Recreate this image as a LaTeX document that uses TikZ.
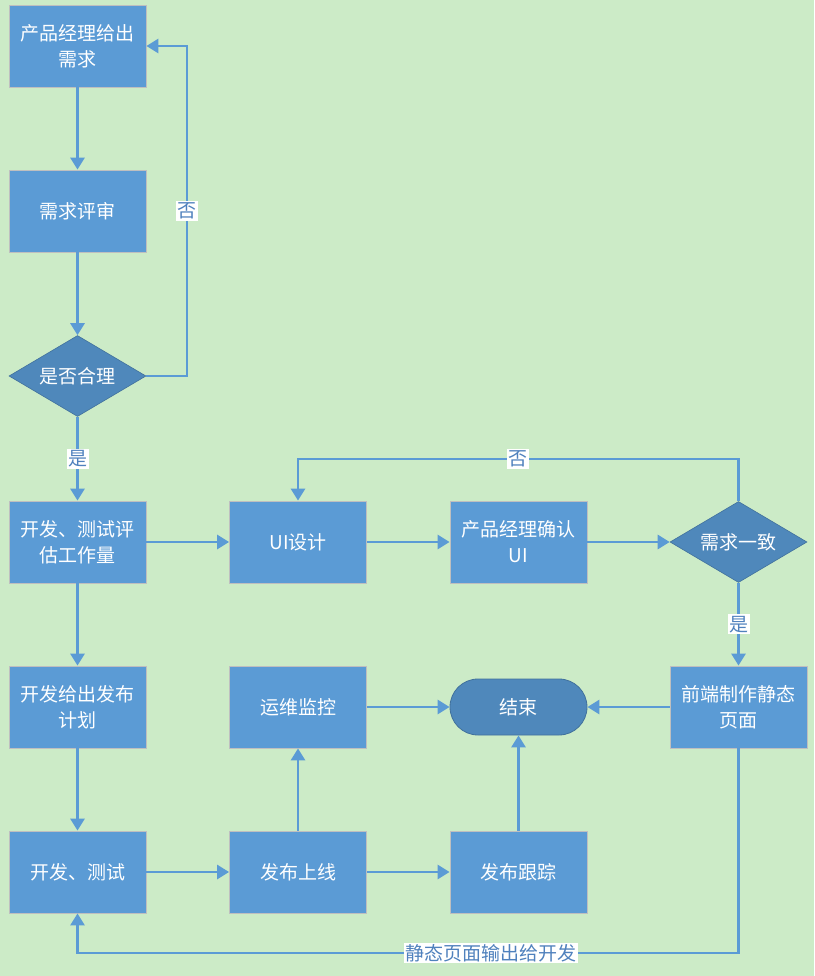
\documentclass[tikz,border=0pt]{standalone}
\usepackage{fontspec}
\setmainfont{Noto Sans CJK SC}
\usetikzlibrary{shapes.geometric,arrows.meta,calc}
\definecolor{bg}{RGB}{204,235,199}
\definecolor{boxfill}{RGB}{91,155,213}
\definecolor{dfill}{RGB}{79,136,187}
\definecolor{dborder}{RGB}{65,113,156}
\definecolor{lineblue}{RGB}{91,155,213}
\definecolor{lbltext}{RGB}{79,129,189}
\begin{document}
\begin{tikzpicture}[x=1pt,y=-1pt,
  box/.style={rectangle,draw={rgb,255:red,191;green,191;blue,191},line width=0.8pt,fill=boxfill,minimum width=137pt,minimum height=82pt,inner sep=2pt,text=white,font=\fontsize{19}{26}\selectfont,align=center},
  dia/.style={diamond,draw=dborder,line width=0.6pt,fill=dfill,minimum width=137pt,minimum height=81pt,inner sep=0pt,aspect=1.67,text=white,font=\fontsize{19}{26}\selectfont},
  term/.style={rectangle,rounded corners=28pt,draw=dborder,line width=0.8pt,fill=dfill,minimum width=137pt,minimum height=56pt,inner sep=0pt,text=white,font=\fontsize{19}{26}\selectfont},
  arr/.style={draw=lineblue,line width=2.8pt,-{Triangle[length=12pt,width=14pt]}},
  lbl/.style={fill=white,text=lbltext,inner sep=1.5pt,font=\fontsize{19}{22}\selectfont}]
\fill[bg] (0,0) rectangle (814,976);
\useasboundingbox (0,0) rectangle (814,976);

\node[box] (n1) at (77.5,46) {产品经理给出\\需求};
\node[box] (n2) at (77.5,211) {需求评审};
\node[dia] (d1) at (77.5,376) {是否合理};
\node[box] (n4) at (77.5,542) {开发、测试评\\估工作量};
\node[box] (ui) at (298,542) {UI设计};
\node[box] (pm) at (518.5,542) {产品经理确认\\UI};
\node[dia] (d2) at (738.5,542) {需求一致};
\node[box] (n5) at (77.5,707) {开发给出发布\\计划};
\node[box] (ops) at (298,707) {运维监控};
\node[term] (end) at (518.5,707) {结束};
\node[box] (fe) at (738.5,707) {前端制作静态\\页面};
\node[box] (n6) at (77.5,872) {开发、测试};
\node[box] (rel) at (298,872) {发布上线};
\node[box] (trk) at (518.5,872) {发布跟踪};

\coordinate (c1) at (187,46);
\coordinate (c2) at (298,459);
\coordinate (c3) at (738.5,953);
\coordinate (c4) at (77.5,953);

\draw[arr] (n1) -- (n2);
\draw[arr] (n2) -- (d1);
\draw[arr] (d1.east) -| node[lbl,pos=0.75]{否} (c1) -- (n1.east);
\draw[arr] (d1) -- node[lbl]{是} (n4);
\draw[arr] (n4) -- (ui);
\draw[arr] (ui) -- (pm);
\draw[arr] (pm) -- (d2);
\draw[arr] (d2.north) |- node[lbl,pos=0.75]{否} (c2) -- (ui.north);
\draw[arr] (d2) -- node[lbl]{是} (fe);
\draw[arr] (fe) -- (end);
\draw[arr] (ops) -- (end);
\draw[arr] (n4) -- (n5);
\draw[arr] (n5) -- (n6);
\draw[arr] (n6) -- (rel);
\draw[arr] (rel) -- (trk);
\draw[arr] (rel) -- (ops);
\draw[arr] (trk) -- (end);
\draw[arr] (fe.south) -- (c3) -- node[lbl,pos=0.374]{静态页面输出给开发} (c4) -- (n6.south);
\end{tikzpicture}
\end{document}
